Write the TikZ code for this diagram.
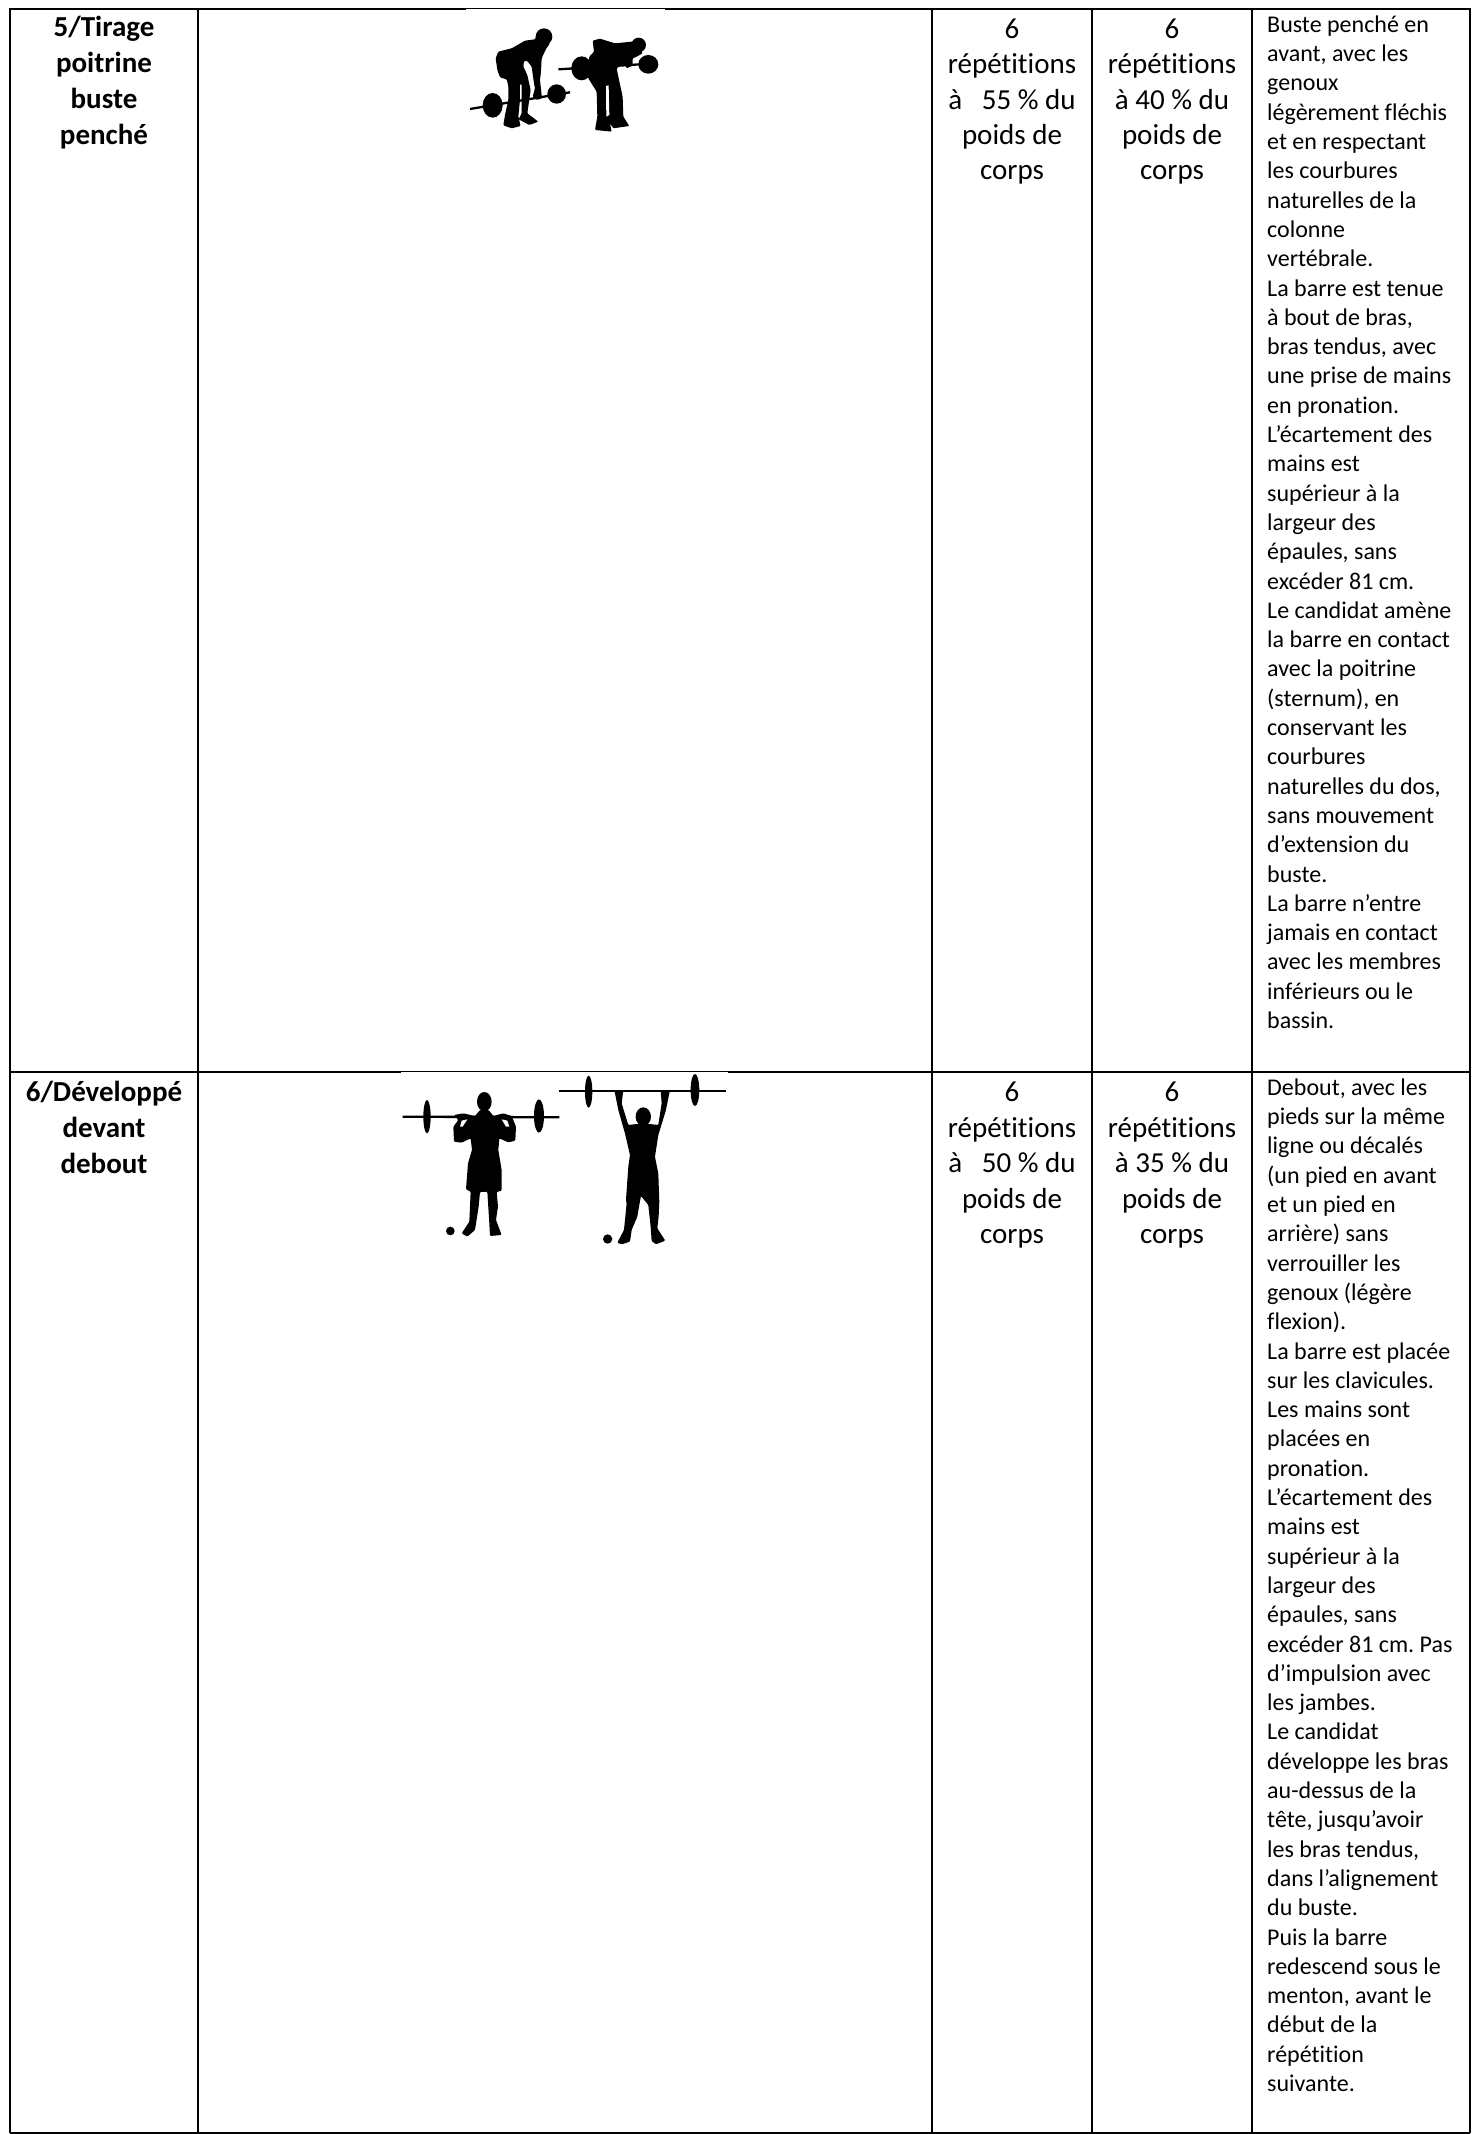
\documentclass[tikz,border=0pt]{standalone}
\usepackage{fontspec}
\setmainfont[Ligatures=CommonOff]{Carlito}
\frenchspacing
\tikzset{
  rule/.style={line width=2pt,black},
  titlecell/.style={inner sep=0pt,anchor=north,align=center,font=\fontsize{29}{36}\selectfont\bfseries},
  repcell/.style={inner sep=0pt,anchor=north,align=center,font=\fontsize{29}{35.4}\selectfont},
  desccell/.style={inner sep=0pt,anchor=north west,align=left,font=\fontsize{24}{29.3}\selectfont},
  sil/.style={fill=black,draw=none,rounded corners=1pt},
  bar/.style={line width=2.3pt,black}
}
\begin{document}
\begin{tikzpicture}[x=1pt,y=-1pt]
\path[use as bounding box] (0,0) rectangle (1478,2134);
\fill[white] (0,0) rectangle (1478,2134);
% grid
\coordinate (ml) at (10,1072); \coordinate (mr) at (1470,1072);
\coordinate (bl) at (10,2133); \coordinate (br) at (1470,2133);
\draw[rule] (9,9) -- (1471,9);
\draw[rule] (ml) -- (mr);
\draw[rule] (bl) -- (br);
\foreach \cx in {10,198,932,1092,1252,1470}{\draw[rule] (\cx,9) -- (\cx,2133);}
\fill[white] (466,9.1) rectangle (665,10.6);
\fill[white] (401,1072.1) rectangle (728,1073.6);
% row 1 text
\node[titlecell] (t1) at (104,16) {5/Tirage\\poitrine\\buste\\penché};
\node[repcell] (r1a) at (1012,18.5) {6\\répétitions\\à\ \ \ 55 \% du\\poids de\\corps};
\node[repcell] (r1b) at (1172,18.5) {6\\répétitions\\à 40 \% du\\poids de\\corps};
\node[desccell] (d1) at (1267,15.5) {Buste penché en\\avant, avec les\\genoux\\légèrement fléchis\\et en respectant\\les courbures\\naturelles de la\\colonne\\vertébrale.\\La barre est tenue\\à bout de bras,\\bras tendus, avec\\une prise de mains\\en pronation.\\L’écartement des\\mains est\\supérieur à la\\largeur des\\épaules, sans\\excéder 81 cm.\\Le candidat amène\\la barre en contact\\avec la poitrine\\(sternum), en\\conservant les\\courbures\\naturelles du dos,\\sans mouvement\\d’extension du\\buste.\\La barre n’entre\\jamais en contact\\avec les membres\\inférieurs ou le\\bassin.};
% row 2 text
\node[titlecell] (t2) at (104,1080.5) {6/Développé\\devant\\debout};
\node[repcell] (r2a) at (1012,1082) {6\\répétitions\\à\ \ \ 50 \% du\\poids de\\corps};
\node[repcell] (r2b) at (1172,1082) {6\\répétitions\\à 35 \% du\\poids de\\corps};
\node[desccell] (d2) at (1267,1078.5) {Debout, avec les\\pieds sur la même\\ligne ou décalés\\(un pied en avant\\et un pied en\\arrière) sans\\verrouiller les\\genoux (légère\\flexion).\\La barre est placée\\sur les clavicules.\\Les mains sont\\placées en\\pronation.\\L’écartement des\\mains est\\supérieur à la\\largeur des\\épaules, sans\\excéder 81 cm. Pas\\d’impulsion avec\\les jambes.\\Le candidat\\développe les bras\\au-dessus de la\\tête, jusqu’avoir\\les bras tendus,\\dans l’alignement\\du buste.\\Puis la barre\\redescend sous le\\menton, avant le\\début de la\\répétition\\suivante.};
% silhouettes row 1 (3x crop coordinates)
\begin{scope}[shift={(440,0)},x=0.3333pt,y=-0.3333pt]
 \draw[bar] (90,327) -- (390,277);
 \fill (158,316) ellipse [x radius=30,y radius=37];
 \fill (350,282) ellipse [x radius=28,y radius=29];
 \fill (312,110) circle [radius=25];
 \path[sil] (292,100) -- (285,118) -- (255,122) -- (215,145) -- (175,155) -- (167,175) -- (172,210) -- (180,232) -- (200,238) -- (205,258) -- (205,300) -- (195,345) -- (190,376) -- (215,385) -- (242,378) -- (235,350) -- (240,300) -- (240,252) -- (245,252) -- (245,340) -- (236,358) -- (268,375) -- (295,365) -- (262,340) -- (272,270) -- (262,225) -- (250,200) -- (252,183) -- (262,183) -- (275,200) -- (282,250) -- (285,265) -- (278,290) -- (290,300) -- (306,295) -- (300,240) -- (303,215) -- (305,175) -- (318,147) -- (330,130) -- cycle;
 \draw[bar] (355,208) -- (650,190);
 \fill (425,205) ellipse [x radius=31,y radius=36];
 \fill (625,193) ellipse [x radius=30,y radius=28];
 \fill (596,135) circle [radius=22];
 \path[sil] (458,122) -- (480,116) -- (525,130) -- (575,125) -- (590,125) -- (608,160) -- (590,170) -- (578,175) -- (578,197) -- (560,205) -- (552,190) -- (530,205) -- (535,230) -- (548,290) -- (550,350) -- (568,378) -- (520,385) -- (510,370) -- (515,395) -- (465,390) -- (472,350) -- (470,275) -- (448,240) -- (440,225) -- (448,170) -- (462,155) -- cycle;
 \fill[white] (498,258) -- (506,256) -- (508,345) -- (499,350) -- cycle;
\end{scope}
% silhouettes row 2
\begin{scope}[shift={(380,1060)},x=0.3333pt,y=-0.3333pt]
 \draw[bar] (68,170) -- (538,172);
 \fill (141,170) ellipse [x radius=11,y radius=50];
 \fill (477,168) ellipse [x radius=15,y radius=50];
 \fill (313,125) ellipse [x radius=22,y radius=29];
 \path[sil] (300,150) -- (326,150) -- (340,168) -- (370,160) -- (395,168) -- (408,200) -- (406,242) -- (385,247) -- (358,235) -- (355,270) -- (365,330) -- (365,392) -- (350,396) -- (354,440) -- (348,480) -- (365,525) -- (330,528) -- (328,490) -- (322,395) -- (300,396) -- (296,440) -- (285,510) -- (262,530) -- (245,520) -- (268,485) -- (272,395) -- (258,388) -- (264,310) -- (276,270) -- (272,235) -- (245,248) -- (222,245) -- (220,200) -- (235,180) -- (222,165) -- (250,160) -- (285,168) -- cycle;
 \fill[white] (245,182) -- (262,178) -- (248,200) -- (240,200) -- cycle;
 \fill[white] (365,178) -- (382,182) -- (388,200) -- (378,200) -- cycle;
 \fill (211,513) circle [radius=13];
 \draw[bar] (537,94) -- (1037,94);
 \fill (626,95) ellipse [x radius=11,y radius=48];
 \fill (945,90) ellipse [x radius=13,y radius=48];
 \fill (790,170) ellipse [x radius=23,y radius=28];
 \path[sil] (703,90) -- (730,90) -- (725,130) -- (745,195) -- (770,192) -- (810,192) -- (835,195) -- (845,130) -- (842,90) -- (870,90) -- (858,150) -- (835,225) -- (825,290) -- (835,340) -- (838,425) -- (836,470) -- (832,505) -- (856,542) -- (828,553) -- (815,543) -- (812,500) -- (805,435) -- (783,408) -- (778,435) -- (772,470) -- (755,510) -- (750,545) -- (725,553) -- (712,548) -- (732,510) -- (735,480) -- (740,430) -- (738,420) -- (745,320) -- (750,285) -- (735,220) -- (715,150) -- cycle;
 \fill (683,537) circle [radius=14];
\end{scope}
\end{tikzpicture}
\end{document}
